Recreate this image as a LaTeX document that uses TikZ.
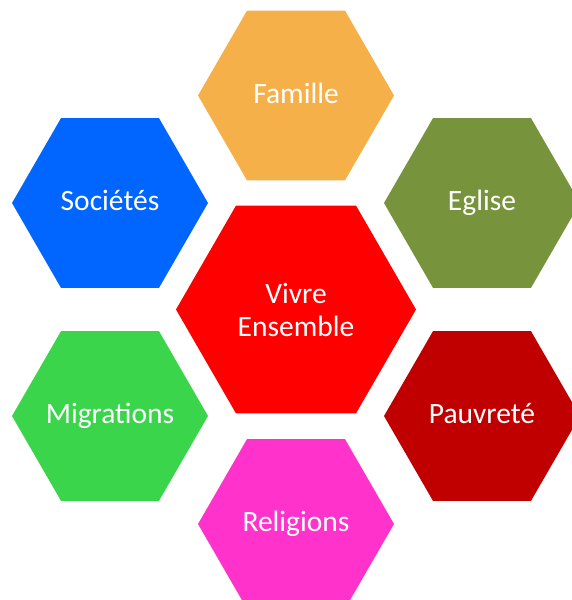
\documentclass[tikz,border=0pt]{standalone}
\usepackage{fontspec}
\setmainfont{Carlito}
\usetikzlibrary{shapes.geometric}
\definecolor{cFam}{HTML}{F6B04A}
\definecolor{cEgl}{HTML}{77933C}
\definecolor{cSoc}{HTML}{0066FF}
\definecolor{cMig}{HTML}{3AD54B}
\definecolor{cPau}{HTML}{C00000}
\definecolor{cRel}{HTML}{FF33CC}
\definecolor{cCen}{HTML}{FF0000}
\tikzset{
  hexbase/.style={regular polygon, regular polygon sides=6,
    inner sep=0pt, outer sep=0pt, draw=none, fill=#1},
  hexa/.style={hexbase=#1, minimum size=196pt},
  bighexa/.style={hexbase=#1, minimum size=240pt},
  hextext/.style={text=white, align=center, inner sep=0pt,
    font=\fontsize{29.5}{33}\selectfont, text height=20pt, text depth=5pt},
  bigtext/.style={text=white, align=center, inner sep=0pt,
    font=\fontsize{29.5}{33}\selectfont}
}
\begin{document}
\begin{tikzpicture}[x=1pt,y=-1pt]
\useasboundingbox (0,0) rectangle (571,600);
\node[hexa=cFam, label={[hextext]center:Famille}] (famille) at (296,95.5) {};
\node[hexa=cSoc, label={[hextext]center:Sociétés}] (societes) at (110,203) {};
\node[hexa=cEgl, label={[hextext]center:Eglise}] (eglise) at (482,203) {};
\node[bighexa=cCen, label={[bigtext]center:Vivre\\Ensemble}] (centre) at (296,309.5) {};
\node[hexa=cMig, label={[hextext]center:Migrations}] (migrations) at (110,416) {};
\node[hexa=cPau, label={[hextext]center:Pauvreté}] (pauvrete) at (482,416) {};
\node[hexa=cRel, label={[hextext]center:Religions}] (religions) at (296,524) {};
\end{tikzpicture}
\end{document}
